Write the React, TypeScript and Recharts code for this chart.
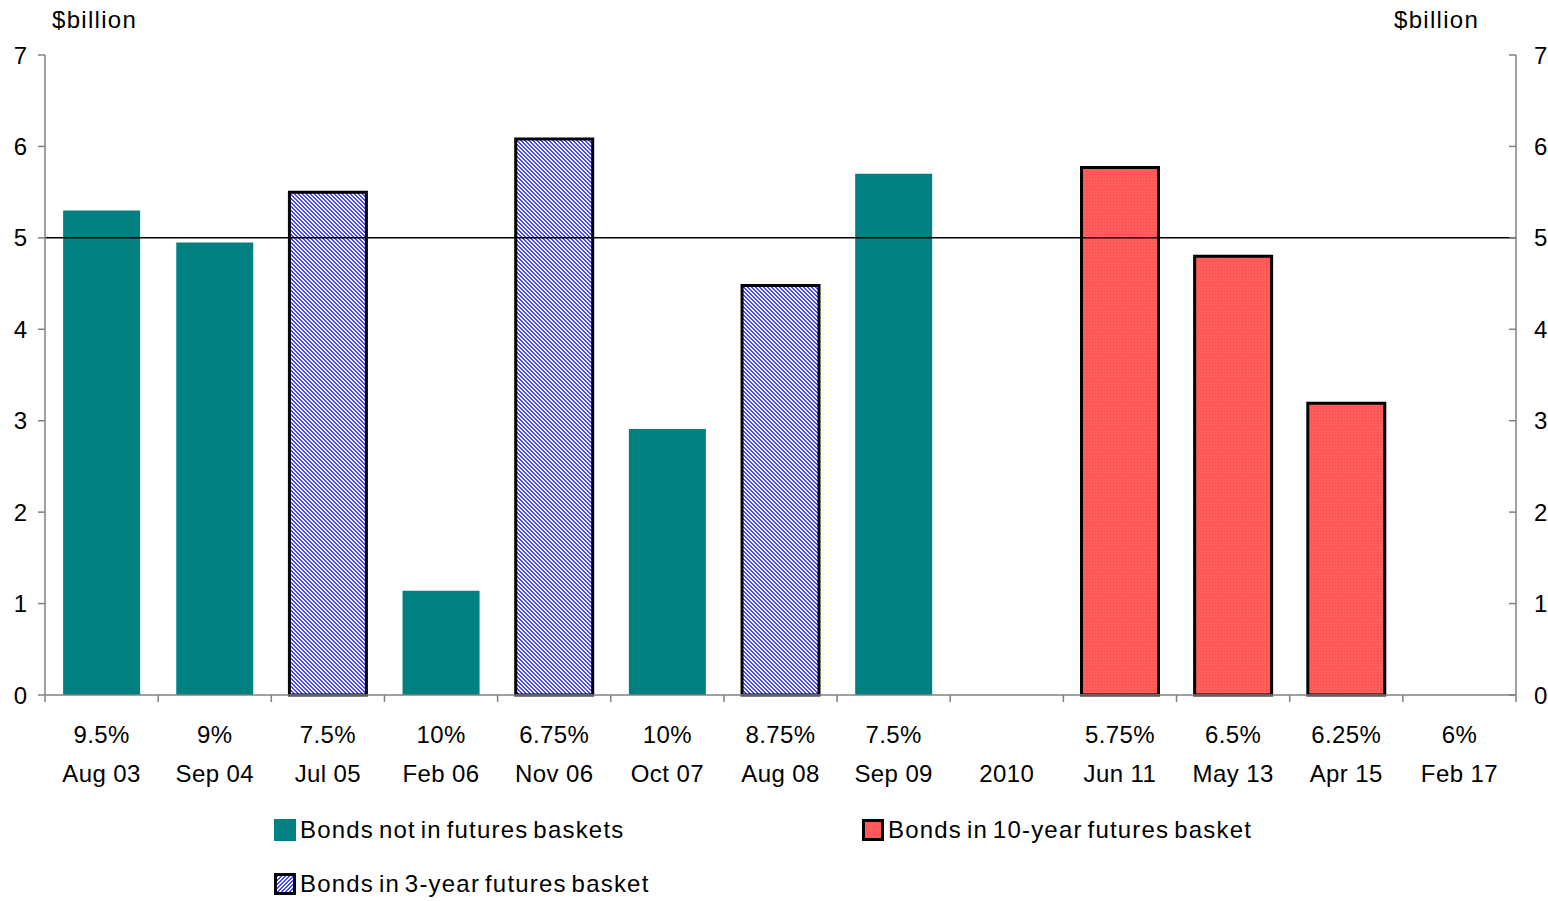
import React from "react";
import { ComposedChart, Bar, Line, XAxis, YAxis, ReferenceLine } from "recharts";

const dates = ["Aug 03", "Sep 04", "Jul 05", "Feb 06", "Nov 06", "Oct 07", "Aug 08", "Sep 09", "2010", "Jun 11", "May 13", "Apr 15", "Feb 17"];
const rates = ["9.5%", "9%", "7.5%", "10%", "6.75%", "10%", "8.75%", "7.5%", "", "5.75%", "6.5%", "6.25%", "6%"];
const notInBasket = [5.3, 4.95, null, 1.14, null, 2.91, null, 5.7, null, null, null, null, null];
const in3Year = [null, null, 5.5, null, 6.08, null, 4.48, null, null, null, null, null, null];
const in10Year = [null, null, null, null, null, null, null, null, null, 5.77, 4.8, 3.19, null];
const yTicks = [0, 1, 2, 3, 4, 5, 6, 7];

const data = dates.map((d, i) => ({
  date: d,
  rate: rates[i],
  notIn: notInBasket[i],
  in3: in3Year[i],
  in10: in10Year[i],
}));

const W = 1548;
const H = 901;
const LEFT = 45;
const RIGHT_W = 32;
const FONT = "'Liberation Sans', Arial, sans-serif";
const FS = 24;
const AXIS_GREY = "#808080";

const XTick = (props: any) => {
  const { x, y, payload, index } = props;
  const band = (W - LEFT - RIGHT_W) / dates.length;
  const i = typeof index === "number" ? index : payload.index;
  const isLast = i === dates.length - 1;
  return (
    <g>
      <line x1={x - band / 2} x2={x - band / 2} y1={y} y2={y + 7} stroke={AXIS_GREY} strokeWidth={1.5} />
      {isLast && <line x1={x + band / 2} x2={x + band / 2} y1={y} y2={y + 7} stroke={AXIS_GREY} strokeWidth={1.5} />}
      <text x={x} y={y + 39} textAnchor="middle" dominantBaseline="central" fontSize={FS} fontFamily={FONT} letterSpacing={0.4} fill="#000">
        {rates[i]}
      </text>
      <text x={x} y={y + 78} textAnchor="middle" dominantBaseline="central" fontSize={FS} fontFamily={FONT} letterSpacing={0.4} fill="#000">
        {payload.value}
      </text>
    </g>
  );
};

const RightTick = (props: any) => {
  const { x, y, payload } = props;
  return (
    <g>
      <line x1={x - 7} x2={x} y1={y} y2={y} stroke={AXIS_GREY} strokeWidth={1.5} />
      <text x={x + 18} y={y} dominantBaseline="central" textAnchor="start" fontSize={FS} fontFamily={FONT} fill="#000">
        {payload.value}
      </text>
    </g>
  );
};

const hatchBg =
  "repeating-linear-gradient(135deg, #4848ff 0px, #4848ff 1.4px, #f4f4ff 1.4px, #f4f4ff 2.8px)";

const LegendSwatch = ({ kind }: { kind: string }) => {
  if (kind === "teal") {
    return <div style={{ width: 22, height: 22, background: "#008080" }} />;
  }
  const bg = kind === "blue" ? hatchBg : "#ff5a5a";
  return <div style={{ width: 16, height: 16, border: "3px solid #000", background: bg }} />;
};

const LegendItem = ({ kind, label, left, top }: { kind: string; label: string; left: number; top: number }) => (
  <div
    style={{
      position: "absolute",
      left,
      top,
      display: "flex",
      alignItems: "center",
      gap: 4,
      fontFamily: FONT,
      fontSize: FS,
      color: "#000",
      whiteSpace: "nowrap",
      wordSpacing: -3,
      letterSpacing: 1.2,
    }}
  >
    <LegendSwatch kind={kind} />
    <span>{label}</span>
  </div>
);

export default function App() {
  return (
    <div style={{ position: "absolute", left: 0, top: 0, width: W, height: H, background: "#fff" }}>
      <ComposedChart
        width={W}
        height={H}
        data={data}
        margin={{ top: 55, right: 0, left: 0, bottom: 106 }}
        barCategoryGap="16%"
      >
        <defs>
          <pattern id="hatch3" patternUnits="userSpaceOnUse" width="4" height="4">
            <rect width="4" height="4" fill="#f4f4ff" />
            <rect x="0" y="0" width="2" height="1" fill="#4848ff" />
            <rect x="1" y="1" width="2" height="1" fill="#4848ff" />
            <rect x="2" y="2" width="2" height="1" fill="#4848ff" />
            <rect x="3" y="3" width="1" height="1" fill="#4848ff" />
            <rect x="0" y="3" width="1" height="1" fill="#4848ff" />
          </pattern>
          <pattern id="dots10" patternUnits="userSpaceOnUse" width="3" height="3">
            <rect width="3" height="3" fill="#ff5c5c" />
            <rect width="1" height="1" fill="#ff4444" />
          </pattern>
        </defs>
        <XAxis
          dataKey="date"
          interval={0}
          height={100}
          tickLine={false}
          tickSize={0}
          tickMargin={0}
          axisLine={{ stroke: AXIS_GREY, strokeWidth: 1.5 }}
          tick={<XTick />}
        />
        <YAxis
          yAxisId="left"
          orientation="left"
          width={LEFT}
          domain={[0, 7]}
          ticks={yTicks}
          interval={0}
          tickSize={7}
          tickMargin={11}
          axisLine={{ stroke: AXIS_GREY, strokeWidth: 1.5 }}
          tickLine={{ stroke: AXIS_GREY, strokeWidth: 1.5 }}
          tick={{ fontSize: FS, fontFamily: FONT, fill: "#000" }}
        />
        <YAxis
          yAxisId="right"
          orientation="right"
          width={RIGHT_W}
          domain={[0, 7]}
          ticks={yTicks}
          interval={0}
          tickSize={0}
          tickMargin={0}
          tickLine={false}
          axisLine={{ stroke: AXIS_GREY, strokeWidth: 1.5 }}
          tick={<RightTick />}
        />
        <ReferenceLine yAxisId="left" y={5} stroke="#000" strokeWidth={1.5} />
        <Bar yAxisId="left" dataKey="notIn" stackId="s" fill="#008080" isAnimationActive={false} />
        <Bar yAxisId="left" dataKey="in3" stackId="s" fill="url(#hatch3)" stroke="#000" strokeWidth={3} isAnimationActive={false} />
        <Bar yAxisId="left" dataKey="in10" stackId="s" fill="url(#dots10)" stroke="#000" strokeWidth={3} isAnimationActive={false} />
        <Line yAxisId="right" dataKey="notIn" stroke="none" dot={false} activeDot={false} legendType="none" isAnimationActive={false} />
      </ComposedChart>
      <div style={{ position: "absolute", left: 52, top: 6, fontFamily: FONT, fontSize: FS, letterSpacing: 1.3, color: "#000" }}>$billion</div>
      <div style={{ position: "absolute", left: 1394, top: 6, fontFamily: FONT, fontSize: FS, letterSpacing: 1.3, color: "#000" }}>$billion</div>
      <LegendItem kind="teal" label="Bonds not in futures baskets" left={274} top={816} />
      <LegendItem kind="red" label="Bonds in 10-year futures basket" left={862} top={816} />
      <LegendItem kind="blue" label="Bonds in 3-year futures basket" left={274} top={870} />
    </div>
  );
}
